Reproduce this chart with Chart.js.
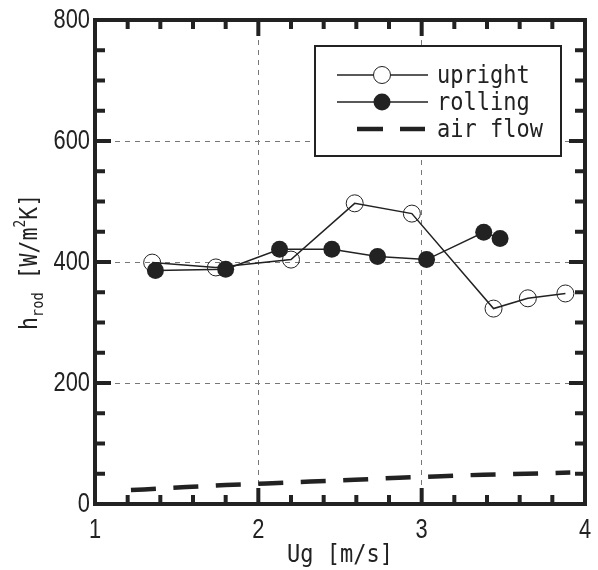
<!DOCTYPE html>
<html>
<head>
<meta charset="utf-8">
<script src="https://cdn.jsdelivr.net/npm/chart.js@4.4.0/dist/chart.umd.min.js"></script>
<style>
  html, body { margin: 0; padding: 0; background: #fff; }
</style>
</head>
<body>
<canvas id="chart" width="598" height="570"></canvas>
<script>
// データ
const uprightX = [1.35, 1.74, 2.20, 2.59, 2.94, 3.44, 3.65, 3.88];
const uprightY = [399, 391, 404, 497, 480, 323, 340, 348];

const rollingX = [1.37, 1.80, 2.13, 2.45, 2.73, 3.03, 3.38, 3.48];
const rollingY = [386, 388, 421, 421, 409, 404, 449, 439];

const airX = [1.22, 1.30, 1.56, 1.80, 2.05, 2.32, 2.59, 2.86, 3.12, 3.38, 3.64, 3.91];
const airY = [23, 24, 28, 31.5, 34, 37, 40, 43.5, 46, 48.5, 50, 52];

const xTicks = [1, 2, 3, 4];
const yTicks = [0, 200, 400, 600, 800];
const seriesNames = ['upright', 'rolling', 'air flow'];
const xTitle = 'Ug [m/s]';

const INK = '#222';
const monoFont = "'DejaVu Sans Mono', monospace";
const numFont = "'Liberation Sans', sans-serif";

const toPoints = (xs, ys) => xs.map((x, i) => ({ x: x, y: ys[i] }));

// 横に詰めた文字 (元図の細長いフォントに合わせる)
function narrowText(ctx, text, x, y, sx, align) {
  ctx.save();
  ctx.translate(x, y);
  ctx.scale(sx, 1);
  ctx.textAlign = align || 'left';
  ctx.fillText(text, 0, 0);
  ctx.restore();
}

// 枠と内向き目盛り
const framePlugin = {
  id: 'frame',
  afterDatasetsDraw(chart) {
    const ctx = chart.ctx;
    const a = chart.chartArea;
    const xs = chart.scales.x;
    const ys = chart.scales.y;
    ctx.save();
    ctx.strokeStyle = INK;
    ctx.lineWidth = 4;
    ctx.beginPath();
    for (let i = 0; i <= 15; i++) {
      const v = 1 + i * 0.2;
      const px = xs.getPixelForValue(v);
      const len = (i % 5 === 0) ? 16 : 9;
      ctx.moveTo(px, a.bottom); ctx.lineTo(px, a.bottom - len);
      ctx.moveTo(px, a.top); ctx.lineTo(px, a.top + len);
    }
    for (let i = 0; i <= 16; i++) {
      const v = i * 50;
      const py = ys.getPixelForValue(v);
      const len = (i % 4 === 0) ? 16 : 10;
      ctx.moveTo(a.left, py); ctx.lineTo(a.left + len, py);
      ctx.moveTo(a.right, py); ctx.lineTo(a.right - len, py);
    }
    ctx.stroke();
    ctx.strokeRect(a.left, a.top, a.right - a.left, a.bottom - a.top);
    ctx.restore();
  }
};

// 凡例 (枠付き)
const legendPlugin = {
  id: 'boxLegend',
  afterDatasetsDraw(chart) {
    const ctx = chart.ctx;
    const bx = 315, by = 46, bw = 246, bh = 110;
    const rows = [75, 102, 129];
    ctx.save();
    ctx.fillStyle = '#fff';
    ctx.fillRect(bx, by, bw, bh);
    ctx.strokeStyle = INK;
    ctx.lineWidth = 2;
    ctx.strokeRect(bx, by, bw, bh);

    for (let i = 0; i < 2; i++) {
      ctx.lineWidth = 1.5;
      ctx.beginPath();
      ctx.moveTo(337, rows[i]); ctx.lineTo(428, rows[i]);
      ctx.stroke();
      ctx.beginPath();
      ctx.arc(382, rows[i], 8.5, 0, Math.PI * 2);
      if (i === 0) {
        ctx.fillStyle = '#fff';
        ctx.fill();
        ctx.lineWidth = 1;
        ctx.stroke();
      } else {
        ctx.fillStyle = INK;
        ctx.fill();
      }
    }
    ctx.lineWidth = 4.5;
    ctx.beginPath();
    ctx.moveTo(357, rows[2]); ctx.lineTo(383, rows[2]);
    ctx.moveTo(400, rows[2]); ctx.lineTo(425, rows[2]);
    ctx.stroke();

    ctx.fillStyle = INK;
    ctx.font = '25px ' + monoFont;
    ctx.textBaseline = 'middle';
    seriesNames.forEach((n, i) => narrowText(ctx, n, 437, rows[i] + 1, 0.88));
    ctx.restore();
  }
};

// 目盛りラベルと軸タイトル
const labelPlugin = {
  id: 'labels',
  afterDraw(chart) {
    const ctx = chart.ctx;
    const a = chart.chartArea;
    const xs = chart.scales.x;
    const ys = chart.scales.y;
    ctx.save();
    ctx.fillStyle = INK;
    ctx.font = '28px ' + numFont;
    ctx.textBaseline = 'middle';
    xTicks.forEach(v => narrowText(ctx, String(v), xs.getPixelForValue(v), 530, 0.78, 'center'));
    yTicks.forEach(v => narrowText(ctx, String(v), a.left - 5, ys.getPixelForValue(v), 0.78, 'right'));

    ctx.font = '25px ' + monoFont;
    narrowText(ctx, xTitle, (a.left + a.right) / 2, 555, 0.88, 'center');

    // h_rod [W/m^2K]
    const parts = [
      { t: 'h', size: 25, dy: 0 },
      { t: 'rod', size: 16, dy: 6 },
      { t: ' [W/m', size: 25, dy: 0 },
      { t: '2', size: 15, dy: -12 },
      { t: 'K]', size: 25, dy: 0 }
    ];
    const sx = 0.86;
    let total = 0;
    parts.forEach(p => {
      ctx.font = p.size + 'px ' + monoFont;
      p.w = ctx.measureText(p.t).width * sx;
      total += p.w;
    });
    ctx.translate(37, (a.top + a.bottom) / 2);
    ctx.rotate(-Math.PI / 2);
    ctx.textBaseline = 'alphabetic';
    let x = -total / 2;
    parts.forEach(p => {
      ctx.font = p.size + 'px ' + monoFont;
      narrowText(ctx, p.t, x, p.dy, sx, 'left');
      x += p.w;
    });
    ctx.restore();
  }
};

const gridColor = (lo, hi) => ctx => {
  const v = ctx.tick ? ctx.tick.value : null;
  return (v !== null && v > lo && v < hi) ? '#777' : 'rgba(0,0,0,0)';
};

new Chart(document.getElementById('chart'), {
  type: 'line',
  data: {
    datasets: [
      {
        label: seriesNames[1],
        data: toPoints(rollingX, rollingY),
        borderColor: INK,
        borderWidth: 1.5,
        pointRadius: 8.5,
        pointBackgroundColor: INK,
        pointBorderColor: INK,
        pointBorderWidth: 0,
        tension: 0,
        order: 0
      },
      {
        label: seriesNames[0],
        data: toPoints(uprightX, uprightY),
        borderColor: INK,
        borderWidth: 1.5,
        pointRadius: 8.5,
        pointBackgroundColor: 'rgba(0,0,0,0)',
        pointBorderColor: INK,
        pointBorderWidth: 1,
        tension: 0,
        order: 1
      },
      {
        label: seriesNames[2],
        data: toPoints(airX, airY),
        borderColor: INK,
        borderWidth: 4.5,
        borderDash: [25, 17.5],
        borderCapStyle: 'butt',
        pointRadius: 0,
        tension: 0,
        order: 2
      }
    ]
  },
  options: {
    responsive: false,
    animation: false,
    devicePixelRatio: 1,
    layout: { padding: { left: 0, right: 13, top: 20, bottom: 0 } },
    plugins: {
      legend: { display: false },
      tooltip: { enabled: false }
    },
    scales: {
      x: {
        type: 'linear',
        min: 1,
        max: 4,
        afterBuildTicks: axis => { axis.ticks = xTicks.map(v => ({ value: v })); },
        afterFit: s => { s.height = 66; },
        grid: { color: gridColor(1, 4), lineWidth: 1, drawTicks: false },
        border: { display: false, dash: [5, 5] },
        ticks: { display: false }
      },
      y: {
        type: 'linear',
        min: 0,
        max: 800,
        afterBuildTicks: axis => { axis.ticks = yTicks.map(v => ({ value: v })); },
        afterFit: s => { s.width = 95; },
        grid: { color: gridColor(0, 800), lineWidth: 1, drawTicks: false },
        border: { display: false, dash: [5, 5] },
        ticks: { display: false }
      }
    }
  },
  plugins: [framePlugin, legendPlugin, labelPlugin]
});
</script>
</body>
</html>
